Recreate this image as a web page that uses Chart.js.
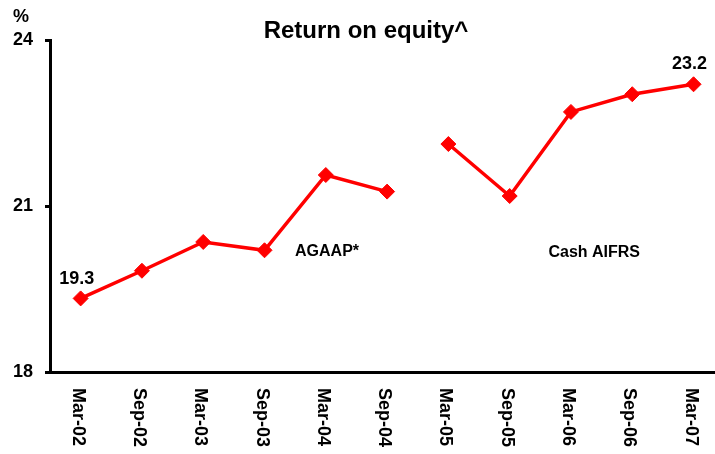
<!DOCTYPE html>
<html>
<head>
<meta charset="utf-8">
<script src="https://cdn.jsdelivr.net/npm/chart.js@4"></script>
<style>
  html, body { margin: 0; padding: 0; background: #fff; }
  #wrap { width: 715px; height: 454px; }
</style>
</head>
<body>
<div id="wrap"><canvas id="grafica" width="715" height="454"></canvas></div>
<script>
// Datos del gráfico
const categorias = ["Mar-02", "Sep-02", "Mar-03", "Sep-03", "Mar-04", "Sep-04",
                    "Mar-05", "Sep-05", "Mar-06", "Sep-06", "Mar-07"];
const valoresAGAAP = [19.33, 19.83, 20.35, 20.2, 21.56, 21.26];   // Mar-02 .. Sep-04
const valoresAIFRS = [22.12, 21.18, 22.7, 23.02, 23.2];           // Mar-05 .. Mar-07
const ticksY = [18, 21, 24];

const FUENTE = "Arial, 'Liberation Sans', sans-serif";
const ROJO = "#ff0000";

// puntos {x: índice de categoría, y: valor}
const puntosAGAAP = valoresAGAAP.map((v, i) => ({ x: i, y: v }));
const puntosAIFRS = valoresAIFRS.map((v, i) => ({ x: i + valoresAGAAP.length, y: v }));

// textos extra: título, %, etiquetas del eje X, etiquetas de datos y notas
const textosExtra = {
    id: "textosExtra",
    afterDraw(chart) {
        const ctx = chart.ctx;
        const x = chart.scales.x;
        const y = chart.scales.y;
        ctx.save();
        ctx.fillStyle = "#000";

        // título
        ctx.font = "bold 24px " + FUENTE;
        ctx.textAlign = "center";
        ctx.textBaseline = "alphabetic";
        ctx.fillText("Return on equity^", 366, 38);

        // unidad
        ctx.font = "bold 18px " + FUENTE;
        ctx.textAlign = "left";
        ctx.fillText("%", 13, 22);

        // etiquetas de categoría giradas (se leen hacia abajo)
        ctx.font = "bold 18px " + FUENTE;
        categorias.forEach((c, i) => {
            ctx.save();
            ctx.translate(x.getPixelForValue(i) - 3, y.bottom + 16);
            ctx.rotate(Math.PI / 2);
            ctx.textAlign = "left";
            ctx.textBaseline = "middle";
            ctx.fillText(c, 0, 0);
            ctx.restore();
        });

        // primera y última etiqueta de dato
        const p0 = chart.getDatasetMeta(0).data[0];
        const metaB = chart.getDatasetMeta(1).data;
        const pN = metaB[metaB.length - 1];
        ctx.font = "bold 18px " + FUENTE;
        ctx.textAlign = "center";
        ctx.textBaseline = "alphabetic";
        ctx.fillText(valoresAGAAP[0].toFixed(1), p0.x - 4, p0.y - 14);
        ctx.fillText(valoresAIFRS[valoresAIFRS.length - 1].toFixed(1), pN.x - 4, pN.y - 15);

        // notas de cada serie
        ctx.font = "bold 16px " + FUENTE;
        ctx.fillText("AGAAP*", x.getPixelForValue(4.02), y.getPixelForValue(20.1));
        ctx.fillText("Cash AIFRS", x.getPixelForValue(8.38), y.getPixelForValue(20.08));

        ctx.restore();
    }
};

const estiloSerie = {
    borderColor: ROJO,
    backgroundColor: ROJO,
    borderWidth: 3.5,
    pointStyle: "rectRot",
    pointRadius: 7.5,
    pointBorderWidth: 1,
    pointBackgroundColor: ROJO,
    pointBorderColor: ROJO,
    tension: 0,
    fill: false
};

const ctx = document.getElementById("grafica").getContext("2d");
const chart = new Chart(ctx, {
    type: "line",
    data: {
        datasets: [
            { label: "AGAAP", data: puntosAGAAP, ...estiloSerie },
            { label: "Cash AIFRS", data: puntosAIFRS, ...estiloSerie }
        ]
    },
    options: {
        responsive: false,
        animation: false,
        layout: { autoPadding: false, padding: { top: 40, right: 0, bottom: 0, left: 0 } },
        plugins: {
            legend: { display: false },
            title: { display: false },
            tooltip: { enabled: false }
        },
        scales: {
            x: {
                type: "linear",
                min: -0.5,
                max: 10.35,
                ticks: { display: false },
                grid: { display: false },
                border: { display: true, color: "#000", width: 3 },
                afterFit(scale) { scale.height = 82; }
            },
            y: {
                min: 18,
                max: 24,
                afterBuildTicks(scale) { scale.ticks = ticksY.map(v => ({ value: v })); },
                ticks: {
                    color: "#000",
                    font: { family: FUENTE, size: 18, weight: "bold" },
                    padding: 12
                },
                grid: {
                    display: true,
                    drawOnChartArea: false,
                    drawTicks: true,
                    tickLength: 5,
                    color: "#000",
                    lineWidth: 3
                },
                border: { display: true, color: "#000", width: 3 },
                afterFit(scale) { scale.width = 50; }
            }
        }
    },
    plugins: [textosExtra]
});
</script>
</body>
</html>
